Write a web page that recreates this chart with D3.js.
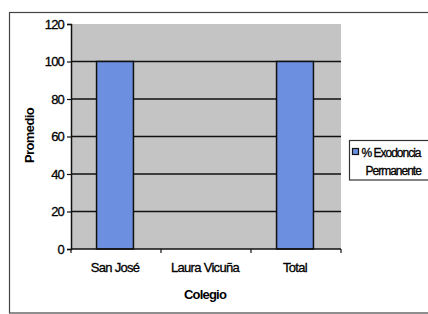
<!DOCTYPE html>
<html>
<head>
<meta charset="utf-8">
<script src="https://cdn.jsdelivr.net/npm/d3@7"></script>
<style>
  body { margin: 0; background: #fff; }
  svg { display: block; font-family: "Liberation Sans", Arial, sans-serif; }
  .t { fill: #000; stroke: #000; stroke-width: 0.3px; }
</style>
</head>
<body>
<div id="chart"></div>
<script>
// data
var categories = ["San José", "Laura Vicuña", "Total"];
var values = [100, 0, 100];
var yTicks = [0, 20, 40, 60, 80, 100, 120];
var legendLines = ["% Exodoncia", "Permanente"];

var W = 428, H = 314;
var margin = {top: 24, right: 87, bottom: 65, left: 71};
var width = W - margin.left - margin.right;
var height = H - margin.top - margin.bottom;

var svg = d3.select("#chart").append("svg")
    .attr("width", W)
    .attr("height", H);

// grainy texture like the scanned original
var defs = svg.append("defs");
function grain(id, slope) {
    var f = defs.append("filter").attr("id", id)
        .attr("x", 0).attr("y", 0).attr("width", "100%").attr("height", "100%");
    f.append("feTurbulence").attr("type", "fractalNoise")
        .attr("baseFrequency", 1.0).attr("numOctaves", 2).attr("seed", 5).attr("result", "noise");
    f.append("feColorMatrix").attr("in", "noise").attr("type", "matrix")
        .attr("values", "1 0 0 0 0  1 0 0 0 0  1 0 0 0 0  0 0 0 0 1")
        .attr("result", "gray");
    var ct = f.append("feComponentTransfer").attr("in", "gray").attr("result", "contrast");
    ["feFuncR", "feFuncG", "feFuncB"].forEach(function(fn) {
        ct.append(fn).attr("type", "linear").attr("slope", slope).attr("intercept", 0.5 - slope / 2);
    });
    f.append("feBlend").attr("in", "contrast").attr("in2", "SourceGraphic").attr("mode", "overlay")
        .attr("result", "mix");
    f.append("feComposite").attr("in", "mix").attr("in2", "SourceGraphic").attr("operator", "in");
}
grain("grainGray", 1.7);
grain("grainBlue", 1.6);

// outer chart border
svg.append("rect")
    .attr("x", 9.5).attr("y", 12.5)
    .attr("width", W + 20).attr("height", 300.5)
    .attr("fill", "none").attr("stroke", "#444").attr("stroke-width", 1.2);

var g = svg.append("g")
    .attr("transform", "translate(" + margin.left + "," + margin.top + ")");

var x = d3.scaleBand().domain(categories).range([0, width]).paddingInner(0).paddingOuter(0);
var y = d3.scaleLinear().domain([0, 120]).range([height, 0]);

// plot area
g.append("rect")
    .attr("width", width).attr("height", height)
    .attr("fill", "#c4c4c4")
    .attr("filter", "url(#grainGray)");

// gridlines
g.selectAll(".grid")
    .data(yTicks.filter(function(d) { return d > 0 && d < 120; }))
    .enter().append("line")
    .attr("x1", 0).attr("x2", width)
    .attr("y1", function(d) { return y(d); })
    .attr("y2", function(d) { return y(d); })
    .attr("stroke", "#111").attr("stroke-width", 1.5);

// bars
var barW = x.bandwidth() * 0.41;
function barX(d, i) { return x(categories[i]) + (x.bandwidth() - barW) / 2 - 1; }
g.selectAll(".bar")
    .data(values)
    .enter().append("rect")
    .attr("class", "bar")
    .attr("x", barX)
    .attr("y", function(d) { return y(d); })
    .attr("width", barW)
    .attr("height", function(d) { return height - y(d); })
    .attr("fill", "#6b8fe0")
    .attr("filter", "url(#grainBlue)")
    .style("display", function(d) { return d > 0 ? null : "none"; });
g.selectAll(".barEdge")
    .data(values)
    .enter().append("rect")
    .attr("x", barX)
    .attr("y", function(d) { return y(d); })
    .attr("width", barW)
    .attr("height", function(d) { return height - y(d); })
    .attr("fill", "none")
    .attr("stroke", "#111").attr("stroke-width", 1.5)
    .style("display", function(d) { return d > 0 ? null : "none"; });

// y axis
var yAxis = g.append("g")
    .call(d3.axisLeft(y).tickValues(yTicks).tickSize(4).tickPadding(3));
yAxis.select(".domain").attr("stroke", "#111").attr("stroke-width", 1.5);
yAxis.selectAll(".tick line").attr("stroke", "#111").attr("stroke-width", 1.2);
yAxis.selectAll("text")
    .attr("class", "t")
    .attr("font-size", "13px")
    .style("letter-spacing", "-0.8px");

// x axis, ticks sit between the categories
var xAxis = g.append("g")
    .attr("transform", "translate(0," + height + ")");
xAxis.append("line").attr("x1", 0).attr("x2", width)
    .attr("stroke", "#111").attr("stroke-width", 1.5);
xAxis.selectAll(".sep")
    .data(categories.map(function(c) { return x(c); }).concat([width]))
    .enter().append("line")
    .attr("x1", function(d) { return d; }).attr("x2", function(d) { return d; })
    .attr("y1", 0).attr("y2", 4)
    .attr("stroke", "#111").attr("stroke-width", 1.2);
xAxis.selectAll(".lbl")
    .data(categories)
    .enter().append("text")
    .attr("class", "t")
    .attr("x", function(d) { return x(d) + x.bandwidth() / 2 - 1; })
    .attr("y", 23)
    .attr("text-anchor", "middle")
    .attr("font-size", "13px")
    .style("letter-spacing", "-0.7px")
    .text(function(d) { return d; });

// axis titles
g.append("text")
    .attr("x", width / 2 - 1).attr("y", height + 50)
    .attr("text-anchor", "middle")
    .attr("font-size", "13px").attr("font-weight", "bold").attr("fill", "#000")
    .style("letter-spacing", "-0.8px")
    .text("Colegio");
g.append("text")
    .attr("transform", "translate(" + (-37) + "," + (height / 2 - 1) + ") rotate(-90)")
    .attr("text-anchor", "middle")
    .attr("font-size", "13px").attr("font-weight", "bold").attr("fill", "#000")
    .style("letter-spacing", "-0.6px")
    .text("Promedio");

// legend box runs past the right edge as in the original
var lg = svg.append("g").attr("transform", "translate(349.5,140.5)");
lg.append("rect").attr("width", 100).attr("height", 39.5)
    .attr("fill", "#fff").attr("stroke", "#333").attr("stroke-width", 1.2);
lg.append("rect").attr("x", 3).attr("y", 8).attr("width", 6).attr("height", 6)
    .attr("fill", "#6b8fe0").attr("stroke", "#111").attr("stroke-width", 1.2);
lg.selectAll(".ltxt")
    .data(legendLines)
    .enter().append("text")
    .attr("class", "t")
    .attr("x", function(d, i) { return i === 0 ? 12 : 16; })
    .attr("y", function(d, i) { return 16 + i * 18; })
    .attr("font-size", "12px")
    .style("letter-spacing", "-1px")
    .text(function(d) { return d; });
</script>
</body>
</html>
